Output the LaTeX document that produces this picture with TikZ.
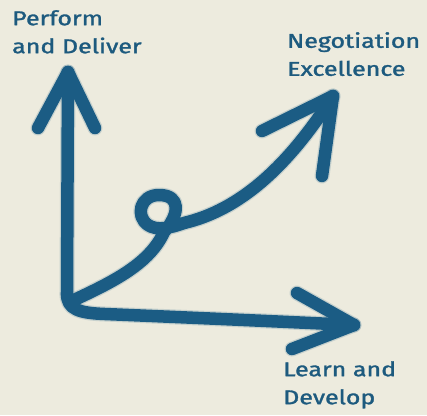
\documentclass[tikz,border=0pt]{standalone}
\usepackage{fontspec}
\setmainfont{Fira Sans}[FakeBold=1.3]
\definecolor{bgc}{HTML}{EDEBDE}
\definecolor{ink}{HTML}{1B5C84}
\definecolor{txt}{HTML}{1D5A7E}
\tikzset{
  brush/.style={draw=ink, line width=12.5pt, line cap=round, line join=round},
  halo/.style={draw=ink, line width=15pt, line cap=round, line join=round, opacity=0.18},
  lbl/.style={text=txt, font=\fontsize{20}{28}\selectfont, align=left, anchor=north west, inner sep=0pt}
}
\begin{document}
\begin{tikzpicture}[x=1pt,y=-1pt]
\fill[bgc] (0,0) rectangle (427,415);
\useasboundingbox (0,0) rectangle (427,415);
% key points
\coordinate (O) at (68,306);
\coordinate (ytip) at (68,72);
\coordinate (yl) at (38,128);
\coordinate (yr) at (95,128);
\coordinate (xtip) at (354,325);
\coordinate (xu) at (297,293);
\coordinate (xd) at (292,349);
\coordinate (dtip) at (333,96);
\coordinate (dl) at (262,131);
\coordinate (dr) at (322,176);
\coordinate (dstart) at (74,300);
\coordinate (cross) at (164,232);
\coordinate (exit) at (184,223);
% axes
\foreach \s in {halo,brush}{
\draw[\s] (ytip) -- (67,292) .. controls (66,310) and (80,313) .. (105,314) .. controls (200,318) and (290,322) .. (xtip);
\draw[\s] (yl) -- (ytip) -- (yr);
\draw[\s] (xu) -- (xtip) -- (xd);
\draw[\s] (dstart) .. controls (115,281) and (150,263) .. (cross)
  .. controls (180,214) and (181,195) .. (159,195)
  .. controls (140,195) and (135,216) .. (148,225)
  .. controls (157,231) and (170,228) .. (exit)
  .. controls (239,210) and (287,168) .. (dtip);
\draw[\s] (dl) -- (dtip) -- (dr);
}
% labels
\node[lbl] (perf) at (12,10) {\scalebox{1.25}[1]{Perform}\\\scalebox{1.25}[1]{and Deliver}};
\node[lbl] (neg) at (287,32) {\scalebox{1.25}[1]{Negotiation}\\\scalebox{1.25}[1]{Excellence}};
\node[lbl] (learn) at (283,361) {\scalebox{1.25}[1]{Learn and}\\\scalebox{1.25}[1]{Develop}};
\end{tikzpicture}
\end{document}
